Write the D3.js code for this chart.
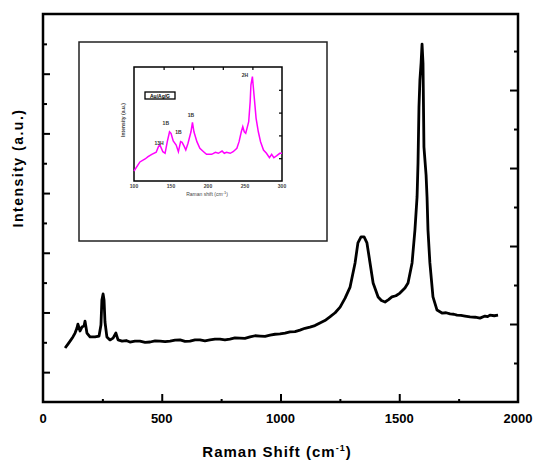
<!DOCTYPE html>
<html>
<head>
<meta charset="utf-8">
<script src="https://cdn.jsdelivr.net/npm/d3@7"></script>
<style>
  body { margin: 0; background: #fff; }
  text { font-family: Arial, "Liberation Sans", sans-serif; }
</style>
</head>
<body>
<div id="chart"></div>
<script>
// Main spectrum (Raman shift in cm-1, intensity in a.u.)
var shift = [93, 105, 114, 126, 135, 143, 147, 156, 164, 173, 177, 185, 198, 219, 236, 244, 248, 253, 257, 261,
  269, 282, 295, 307, 316, 333, 350, 366, 387, 408, 430, 451, 472, 493, 514, 535, 556, 577, 598, 619, 640, 661, 682, 703, 724, 745, 766, 787, 808, 829, 850, 872, 893, 914,
  935, 956, 977, 998, 1019, 1040, 1061, 1082, 1103, 1124, 1145, 1166, 1187, 1208, 1230, 1251, 1272, 1293, 1314, 1326, 1339, 1352, 1364, 1377, 1390, 1411, 1425, 1440, 1455, 1469,
  1486, 1503, 1524, 1537, 1554, 1566, 1575, 1579, 1583, 1587, 1592, 1596, 1600, 1604, 1613, 1617, 1621, 1629, 1642, 1659, 1680,
  1697, 1714, 1730, 1743, 1760, 1777, 1798, 1820, 1840, 1861, 1872, 1882, 1900, 1916];
var intensity = [1.81, 1.94, 2.04, 2.18, 2.31, 2.48, 2.61, 2.38, 2.51, 2.55, 2.71, 2.31, 2.18, 2.18, 2.21, 2.58, 3.42, 3.62, 3.42, 2.68,
  2.18, 2.08, 2.14, 2.31, 2.08, 2.04, 2.06, 2.01, 2.04, 2.04, 2.00, 2.01, 2.05, 2.04, 2.02, 2.04, 2.07, 2.08, 2.03, 2.04, 2.08, 2.08, 2.05, 2.08, 2.11, 2.11, 2.08, 2.11, 2.15, 2.14, 2.13, 2.18, 2.22, 2.21,
  2.20, 2.24, 2.27, 2.28, 2.31, 2.35, 2.36, 2.41, 2.47, 2.51, 2.56, 2.65, 2.73, 2.85, 2.99, 3.18, 3.48, 3.85, 4.66, 5.33, 5.53, 5.53, 5.33, 4.66, 3.99, 3.52, 3.40, 3.35, 3.43, 3.52,
  3.56, 3.65, 3.82, 3.99, 4.66, 5.76, 6.87, 8.01, 9.88, 10.79, 11.36, 11.99, 11.36, 8.54, 7.60, 6.87, 5.76, 4.66, 3.52, 3.08, 2.98,
  2.99, 2.95, 2.94, 2.91, 2.90, 2.88, 2.85, 2.84, 2.81, 2.88, 2.86, 2.91, 2.89, 2.91];

// Inset spectrum (low-frequency region)
var insetShift = [100, 108, 115, 119, 124, 130, 133, 135, 139, 142, 145, 148, 150, 153, 157, 160, 163, 165, 168, 170,
  173, 177, 179, 181, 185, 189, 194, 198, 205, 210, 214, 219, 222, 225, 230, 234, 239, 242, 245, 247,
  249, 251, 255, 257, 258, 260, 261, 263, 265, 268, 271, 275, 279, 283, 286, 289, 293, 297, 300];
var insetIntensity = [0.088, 0.167, 0.193, 0.213, 0.234, 0.252, 0.301, 0.316, 0.257, 0.243, 0.345, 0.432, 0.418, 0.351, 0.316, 0.257, 0.345, 0.339, 0.301, 0.272,
  0.331, 0.432, 0.515, 0.432, 0.345, 0.287, 0.257, 0.234, 0.234, 0.252, 0.243, 0.263, 0.243, 0.252, 0.243, 0.257, 0.287, 0.345, 0.432, 0.476,
  0.432, 0.418, 0.520, 0.696, 0.842, 0.915, 0.842, 0.696, 0.550, 0.432, 0.345, 0.272, 0.243, 0.204, 0.234, 0.204, 0.222, 0.243, 0.243];

// Inset peak labels
var peakLabels = ["13H", "1B", "1B", "1B", "2H"];
var peakShift = [134, 143, 160, 177, 250];
var peakHeight = [0.32, 0.49, 0.41, 0.56, 0.91];
var insetLegend = "Au/Ag/G";

var xTicks = [0, 500, 1000, 1500, 2000];
var insetXTicks = [100, 150, 200, 250, 300];

var width = 537, height = 461;
var svg = d3.select('#chart').append('svg')
  .attr('width', width)
  .attr('height', height);

// Main plot area
var plotLeft = 43, plotRight = 518, plotTop = 14, plotBottom = 402;

var x = d3.scaleLinear().domain([0, 2000]).range([plotLeft, plotRight]);
var y = d3.scaleLinear().domain([0, 13]).range([plotBottom, plotTop]);
var yRight = d3.scaleLinear().domain([0, 9.95]).range([plotBottom, plotTop]);

// Bottom ticks (inward)
var xAxis = d3.axisBottom(x).tickValues(d3.range(250, 2000, 250)).tickSize(0).tickFormat('');
svg.append('g').attr('transform', `translate(0, ${plotBottom})`).call(xAxis)
  .call(g => g.select('.domain').remove())
  .call(g => g.selectAll('line')
    .attr('stroke-width', 2)
    .attr('y2', (d) => d % 500 == 0 ? -8 : -3));

svg.selectAll('.xlabel')
  .data(xTicks)
  .enter().append('text')
  .attr('x', (d) => x(d))
  .attr('y', plotBottom + 21)
  .attr('text-anchor', 'middle')
  .style('font-size', '13px')
  .style('font-weight', 'bold')
  .text((d) => d);

// Left ticks (inward)
var yAxis = d3.axisLeft(y).tickValues(d3.range(1, 13)).tickSize(0).tickFormat('');
svg.append('g').attr('transform', `translate(${plotLeft}, 0)`).call(yAxis)
  .call(g => g.select('.domain').remove())
  .call(g => g.selectAll('line')
    .attr('stroke-width', 2)
    .attr('x2', (d) => d % 2 == 1 ? 7 : 4));

// Right ticks (inward)
var yAxisR = d3.axisRight(yRight).tickValues(d3.range(1, 10)).tickSize(0).tickFormat('');
svg.append('g').attr('transform', `translate(${plotRight}, 0)`).call(yAxisR)
  .call(g => g.select('.domain').remove())
  .call(g => g.selectAll('line')
    .attr('stroke-width', 2)
    .attr('x2', (d) => d % 2 == 0 ? -8 : -4));

// Frame
svg.append('rect')
  .attr('x', plotLeft).attr('y', plotTop)
  .attr('width', plotRight - plotLeft).attr('height', plotBottom - plotTop)
  .attr('fill', 'none')
  .attr('stroke', '#000')
  .attr('stroke-width', 2.5);

// Main line
var mainData = shift.map((d, i) => ({ s: d, v: intensity[i] }));
svg.append('path')
  .datum(mainData)
  .attr('fill', 'none')
  .attr('stroke', '#000')
  .attr('stroke-width', 2.8)
  .attr('stroke-linejoin', 'round')
  .attr('d', d3.line().x((d) => x(d.s)).y((d) => y(d.v)));

// Axis labels
svg.append('text')
  .attr('x', 277)
  .attr('y', 457)
  .attr('text-anchor', 'middle')
  .style('font-size', '15px')
  .style('font-weight', 'bold')
  .style('letter-spacing', '1px')
  .html('Raman Shift (cm<tspan dy="-6" font-size="9px">-1</tspan><tspan dy="6">)</tspan>');

svg.append('text')
  .attr('transform', 'translate(23, 168) rotate(-90)')
  .attr('text-anchor', 'middle')
  .style('font-size', '14px')
  .style('font-weight', 'bold')
  .style('letter-spacing', '1.5px')
  .text('Intensity (a.u.)');

// Inset box
svg.append('rect')
  .attr('x', 79).attr('y', 42)
  .attr('width', 248).attr('height', 199)
  .attr('fill', '#fff')
  .attr('stroke', '#222')
  .attr('stroke-width', 1.5);

var ix = d3.scaleLinear().domain([100, 300]).range([134, 282]);
var iy = d3.scaleLinear().domain([0, 1]).range([181, 67]);

var inset = svg.append('g');

// inset ticks
inset.append('g').attr('transform', 'translate(0, 67)')
  .call(d3.axisTop(d3.scaleLinear().domain([0, 5]).range([134, 282])).tickValues([1, 2, 3, 4]).tickSize(-3).tickFormat(''))
  .call(g => g.select('.domain').remove())
  .call(g => g.selectAll('line').attr('stroke-width', 1.2));
inset.append('g').attr('transform', 'translate(282, 0)')
  .call(d3.axisRight(iy).tickValues([0.2, 0.4, 0.6, 0.8]).tickSize(-3).tickFormat(''))
  .call(g => g.select('.domain').remove())
  .call(g => g.selectAll('line').attr('stroke-width', 1.2));

inset.append('rect')
  .attr('x', 134).attr('y', 67)
  .attr('width', 148).attr('height', 114)
  .attr('fill', 'none')
  .attr('stroke', '#000')
  .attr('stroke-width', 1.5);

var insetData = insetShift.map((d, i) => ({ s: d, v: insetIntensity[i] }));
inset.append('path')
  .datum(insetData)
  .attr('fill', 'none')
  .attr('stroke', '#ff00ff')
  .attr('stroke-width', 1.5)
  .attr('d', d3.line().x((d) => ix(d.s)).y((d) => iy(d.v)));

inset.selectAll('.itick')
  .data(insetXTicks)
  .enter().append('text')
  .attr('x', (d) => ix(d))
  .attr('y', 188)
  .attr('text-anchor', 'middle')
  .style('font-size', '5px')
  .style('font-weight', 'bold')
  .attr('fill', '#444')
  .text((d) => d);

inset.append('text')
  .attr('x', 207).attr('y', 196)
  .attr('text-anchor', 'middle')
  .style('font-size', '5px')
  .attr('fill', '#444')
  .html('Raman shift (cm<tspan dy="-2" font-size="4px">-1</tspan><tspan dy="2">)</tspan>');

inset.append('text')
  .attr('transform', 'translate(125, 120) rotate(-90)')
  .attr('text-anchor', 'middle')
  .style('font-size', '5px')
  .style('font-weight', 'bold')
  .attr('fill', '#444')
  .text('Intensity (a.u.)');

inset.selectAll('.peak')
  .data(peakLabels)
  .enter().append('text')
  .attr('x', (d, i) => ix(peakShift[i]))
  .attr('y', (d, i) => iy(peakHeight[i]))
  .attr('text-anchor', 'middle')
  .style('font-size', '5px')
  .style('font-weight', 'bold')
  .attr('fill', '#333')
  .text((d) => d);

inset.append('rect')
  .attr('x', 145).attr('y', 92)
  .attr('width', 30).attr('height', 7)
  .attr('fill', '#fff')
  .attr('stroke', '#000')
  .attr('stroke-width', 1.3);
inset.append('text')
  .attr('x', 160).attr('y', 97.5)
  .attr('text-anchor', 'middle')
  .style('font-size', '5px')
  .style('font-weight', 'bold')
  .text(insetLegend);
</script>
</body>
</html>
